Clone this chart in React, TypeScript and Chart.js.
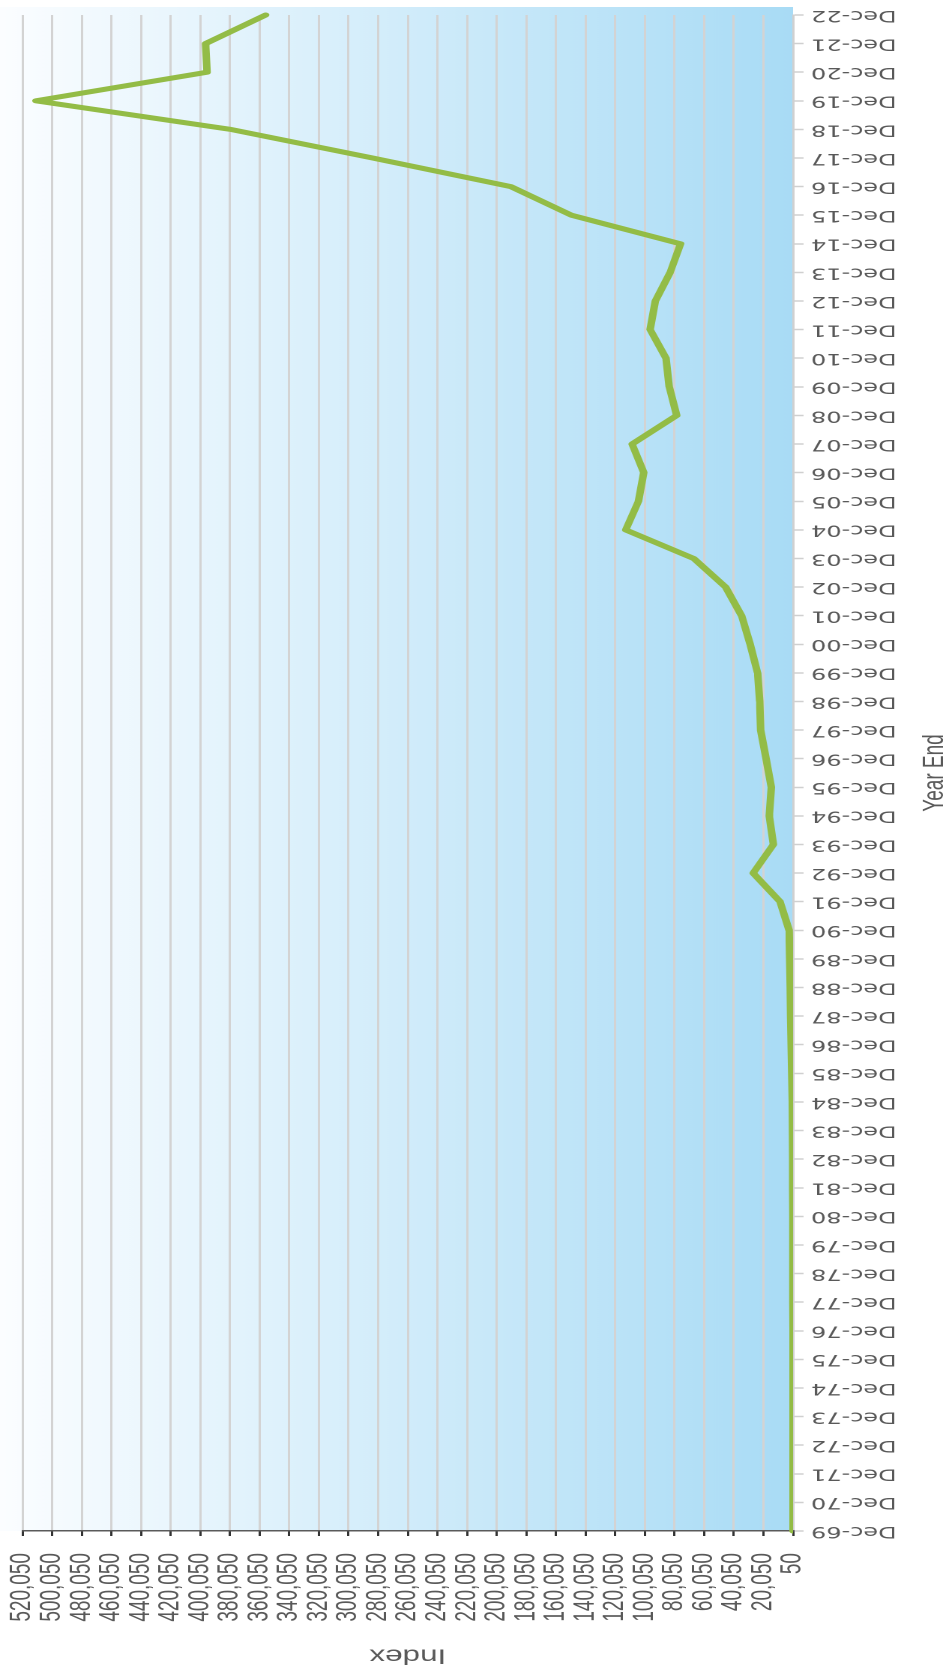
import React, { useEffect, useRef } from "react";
import { Chart, registerables } from "chart.js";

Chart.register(...registerables);

const YEAR_LABELS: string[] = [
  "Dec-69", "Dec-70", "Dec-71", "Dec-72", "Dec-73", "Dec-74", "Dec-75", "Dec-76", "Dec-77", "Dec-78",
  "Dec-79", "Dec-80", "Dec-81", "Dec-82", "Dec-83", "Dec-84", "Dec-85", "Dec-86", "Dec-87", "Dec-88",
  "Dec-89", "Dec-90", "Dec-91", "Dec-92", "Dec-93", "Dec-94", "Dec-95", "Dec-96", "Dec-97", "Dec-98",
  "Dec-99", "Dec-00", "Dec-01", "Dec-02", "Dec-03", "Dec-04", "Dec-05", "Dec-06", "Dec-07", "Dec-08",
  "Dec-09", "Dec-10", "Dec-11", "Dec-12", "Dec-13", "Dec-14", "Dec-15", "Dec-16", "Dec-17", "Dec-18",
  "Dec-19", "Dec-20", "Dec-21", "Dec-22",
];

const INDEX_VALUES: number[] = [
  50, 60, 70, 80, 75, 70, 90, 110, 130, 150,
  180, 230, 260, 330, 420, 600, 900, 1300, 1700, 2000,
  2300, 2700, 8800, 27000, 13300, 16100, 14700, 18300, 21900, 22600,
  24000, 29000, 34800, 45600, 67100, 113000, 104400, 100800, 108700, 78600,
  83600, 85800, 96500, 93000, 83000, 76000, 149600, 190500, 283700, 379500,
  511000, 395500, 396500, 356000,
];

const VALUE_TICKS: number[] = [
  50, 20050, 40050, 60050, 80050, 100050, 120050, 140050, 160050, 180050,
  200050, 220050, 240050, 260050, 280050, 300050, 320050, 340050, 360050, 380050,
  400050, 420050, 440050, 460050, 480050, 500050, 520050,
];

const X_TITLE = "Year End";
const Y_TITLE = "Index";

const CANVAS_W = 1668;
const CANVAS_H = 635;
const STRETCH = 952 / CANVAS_H;

const bgPlugin = {
  id: "plotBackground",
  beforeDraw(chart: any) {
    const { ctx, chartArea } = chart;
    if (!chartArea) return;
    const g = ctx.createLinearGradient(0, 0, 0, chartArea.bottom);
    g.addColorStop(0, "#fbfdff");
    g.addColorStop(1, "#a8dbf5");
    ctx.save();
    ctx.fillStyle = g;
    ctx.fillRect(chartArea.left, 0, chartArea.right + 8 - chartArea.left, chartArea.bottom);
    ctx.restore();
  },
};

export default function App() {
  const canvasRef = useRef<HTMLCanvasElement | null>(null);

  useEffect(() => {
    document.documentElement.style.overflow = "hidden";
    document.body.style.overflow = "hidden";
    const canvas = canvasRef.current;
    if (!canvas) return;
    const chart = new Chart(canvas, {
      type: "line",
      data: {
        labels: YEAR_LABELS,
        datasets: [
          {
            data: INDEX_VALUES,
            borderColor: "#93bc46",
            borderWidth: 5,
            pointRadius: 0,
            tension: 0,
            borderCapStyle: "round",
            borderJoinStyle: "round",
            fill: false,
          },
        ],
      },
      options: {
        responsive: false,
        animation: false,
        devicePixelRatio: 2,
        layout: { padding: { top: 15, right: 15, left: 0, bottom: 0 } },
        plugins: {
          legend: { display: false },
          tooltip: { enabled: false },
        },
        scales: {
          x: {
            type: "category",
            afterFit: (scale: any) => {
              scale.height = 106;
              scale.paddingLeft = 0;
              scale.paddingRight = 0;
            },
            grid: {
              drawOnChartArea: false,
              drawTicks: true,
              tickLength: 7,
              tickColor: "#d0d0d0",
              tickWidth: 1.5,
            },
            border: { color: "#d0d0d0", width: 1.4 },
            ticks: {
              autoSkip: false,
              minRotation: 90,
              maxRotation: 90,
              padding: 5,
              color: "#595959",
              font: { family: "'DejaVu Sans'", size: 16 },
            },
            title: {
              display: true,
              text: X_TITLE,
              color: "#595959",
              font: { family: "'Liberation Sans'", size: 19 },
              padding: { top: 0, bottom: 0 },
            },
          },
          y: {
            type: "linear",
            min: 50,
            max: 520050,
            afterFit: (scale: any) => {
              scale.width = 137;
              scale.paddingTop = 0;
              scale.paddingBottom = 0;
            },
            afterBuildTicks: (scale: any) => {
              scale.ticks = VALUE_TICKS.map((v) => ({ value: v }));
            },
            grid: {
              color: "#d3d3d3",
              lineWidth: 1.5,
              drawTicks: true,
              tickLength: 5,
              tickColor: "#333333",
              tickWidth: 1.5,
            },
            border: { color: "#5a5a5a", width: 1.5 },
            ticks: {
              autoSkip: false,
              padding: 17,
              color: "#595959",
              font: { family: "'Liberation Sans'", size: 19 },
              callback: (v: any) => Number(v).toLocaleString("en-US"),
            },
            title: {
              display: true,
              text: Y_TITLE,
              color: "#595959",
              font: { family: "'Liberation Sans'", size: 21 },
              padding: { top: 0, bottom: 0 },
            },
          },
        },
      },
      plugins: [bgPlugin],
    });
    return () => chart.destroy();
  }, []);

  return (
    <div
      style={{
        position: "fixed",
        left: 0,
        top: 0,
        width: CANVAS_W + "px",
        height: CANVAS_H + "px",
        transformOrigin: "0 0",
        transform: `translateY(${CANVAS_W}px) rotate(-90deg) scaleY(${STRETCH})`,
        background: "#ffffff",
      }}
    >
      <canvas
        ref={canvasRef}
        width={CANVAS_W}
        height={CANVAS_H}
        style={{ width: CANVAS_W + "px", height: CANVAS_H + "px", display: "block" }}
      />
    </div>
  );
}
